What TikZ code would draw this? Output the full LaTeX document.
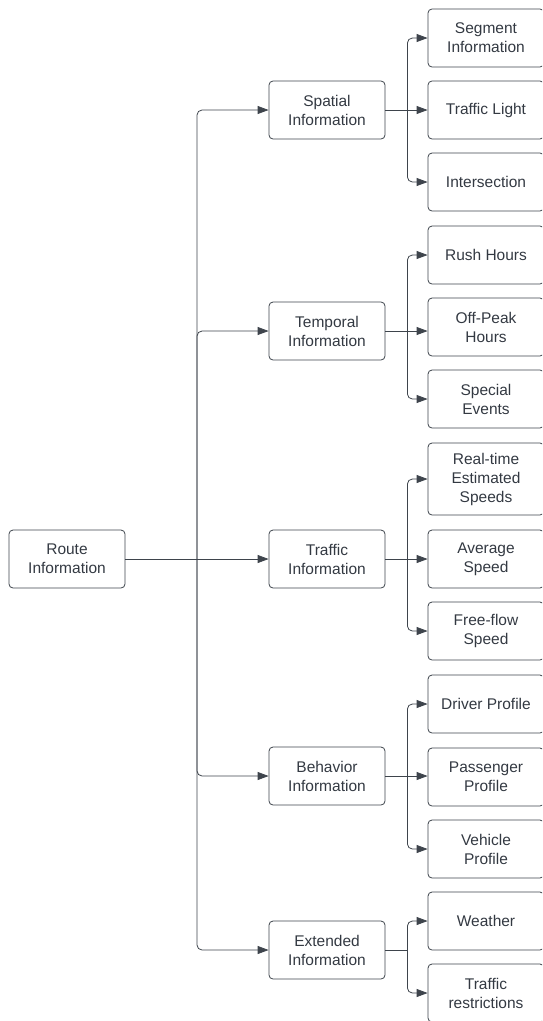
\documentclass[tikz,border=0pt]{standalone}
\usepackage{fontspec}
\setmainfont{Liberation Sans}
\usetikzlibrary{arrows.meta,calc}
\definecolor{lc}{RGB}{62,68,76}
\definecolor{tc}{RGB}{51,57,66}
\begin{document}
\begin{tikzpicture}[x=1pt,y=-1pt,
  box/.style={draw=lc,line width=0.8pt,rounded corners=4pt,minimum width=116pt,minimum height=58pt,
    inner sep=0pt,align=center,text=tc,font=\fontsize{15.5}{19}\selectfont},
  conn/.style={draw=lc,line width=0.8pt,rounded corners=5pt,-{Triangle[length=11pt,width=8pt]}},
  plain/.style={draw=lc,line width=0.8pt}]
\useasboundingbox (0,0) rectangle (542,1021);
\clip (0,0) rectangle (542,1021);
% root and level 1
\node[box] (root) at (67,559) {Route\\Information};
\node[box] (sp) at (327,110) {Spatial\\Information};
\node[box] (tp) at (327,331) {Temporal\\Information};
\node[box] (tr) at (327,559) {Traffic\\Information};
\node[box] (bh) at (327,776) {Behavior\\Information};
\node[box] (ex) at (327,950) {Extended\\Information};
% level 2
\node[box] (seg) at (486,38) {Segment\\Information};
\node[box] (tl) at (486,110) {Traffic Light};
\node[box] (int) at (486,182) {Intersection};
\node[box] (rush) at (486,255) {Rush Hours};
\node[box] (off) at (486,327) {Off-Peak\\Hours};
\node[box] (spe) at (486,399) {Special\\Events};
\node[box,minimum height=72pt] (rt) at (486,479) {Real-time\\Estimated\\Speeds};
\node[box] (avg) at (486,559) {Average\\Speed};
\node[box] (ff) at (486,631) {Free-flow\\Speed};
\node[box] (drv) at (486,704) {Driver Profile};
\node[box] (pas) at (486,777) {Passenger\\Profile};
\node[box] (veh) at (486,849) {Vehicle\\Profile};
\node[box] (wea) at (486,921) {Weather};
\node[box] (trs) at (486,993) {Traffic\\restrictions};
% trunk
\coordinate (j0) at (197,559);
\draw[conn] (root.east) -- (tr.west);
\draw[conn] (j0) |- (sp.west);
\draw[conn] (j0) |- (tp.west);
\draw[conn] (j0) |- (bh.west);
\draw[conn] (j0) |- (ex.west);
% spatial
\coordinate (j1) at ($(sp.east)+(22,0)$);
\draw[conn] (sp.east) -- (sp.east -| tl.west);
\draw[conn] (j1) |- (seg.west);
\draw[conn] (j1) |- (int.west);
% temporal
\coordinate (j2) at ($(tp.east)+(22,0)$);
\draw[conn] (tp.east) -- (tp.east -| off.west);
\draw[conn] (j2) |- (rush.west);
\draw[conn] (j2) |- (spe.west);
% traffic
\coordinate (j3) at ($(tr.east)+(22,0)$);
\draw[conn] (tr.east) -- (avg.west);
\draw[conn] (j3) |- (rt.west);
\draw[conn] (j3) |- (ff.west);
% behavior
\coordinate (j4) at ($(bh.east)+(22,0)$);
\draw[conn] (bh.east) -- (bh.east -| pas.west);
\draw[conn] (j4) |- (drv.west);
\draw[conn] (j4) |- (veh.west);
% extended
\coordinate (j5) at ($(ex.east)+(22,0)$);
\draw[plain] (ex.east) -- (j5);
\draw[conn] (j5) |- (wea.west);
\draw[conn] (j5) |- (trs.west);
\end{tikzpicture}
\end{document}
